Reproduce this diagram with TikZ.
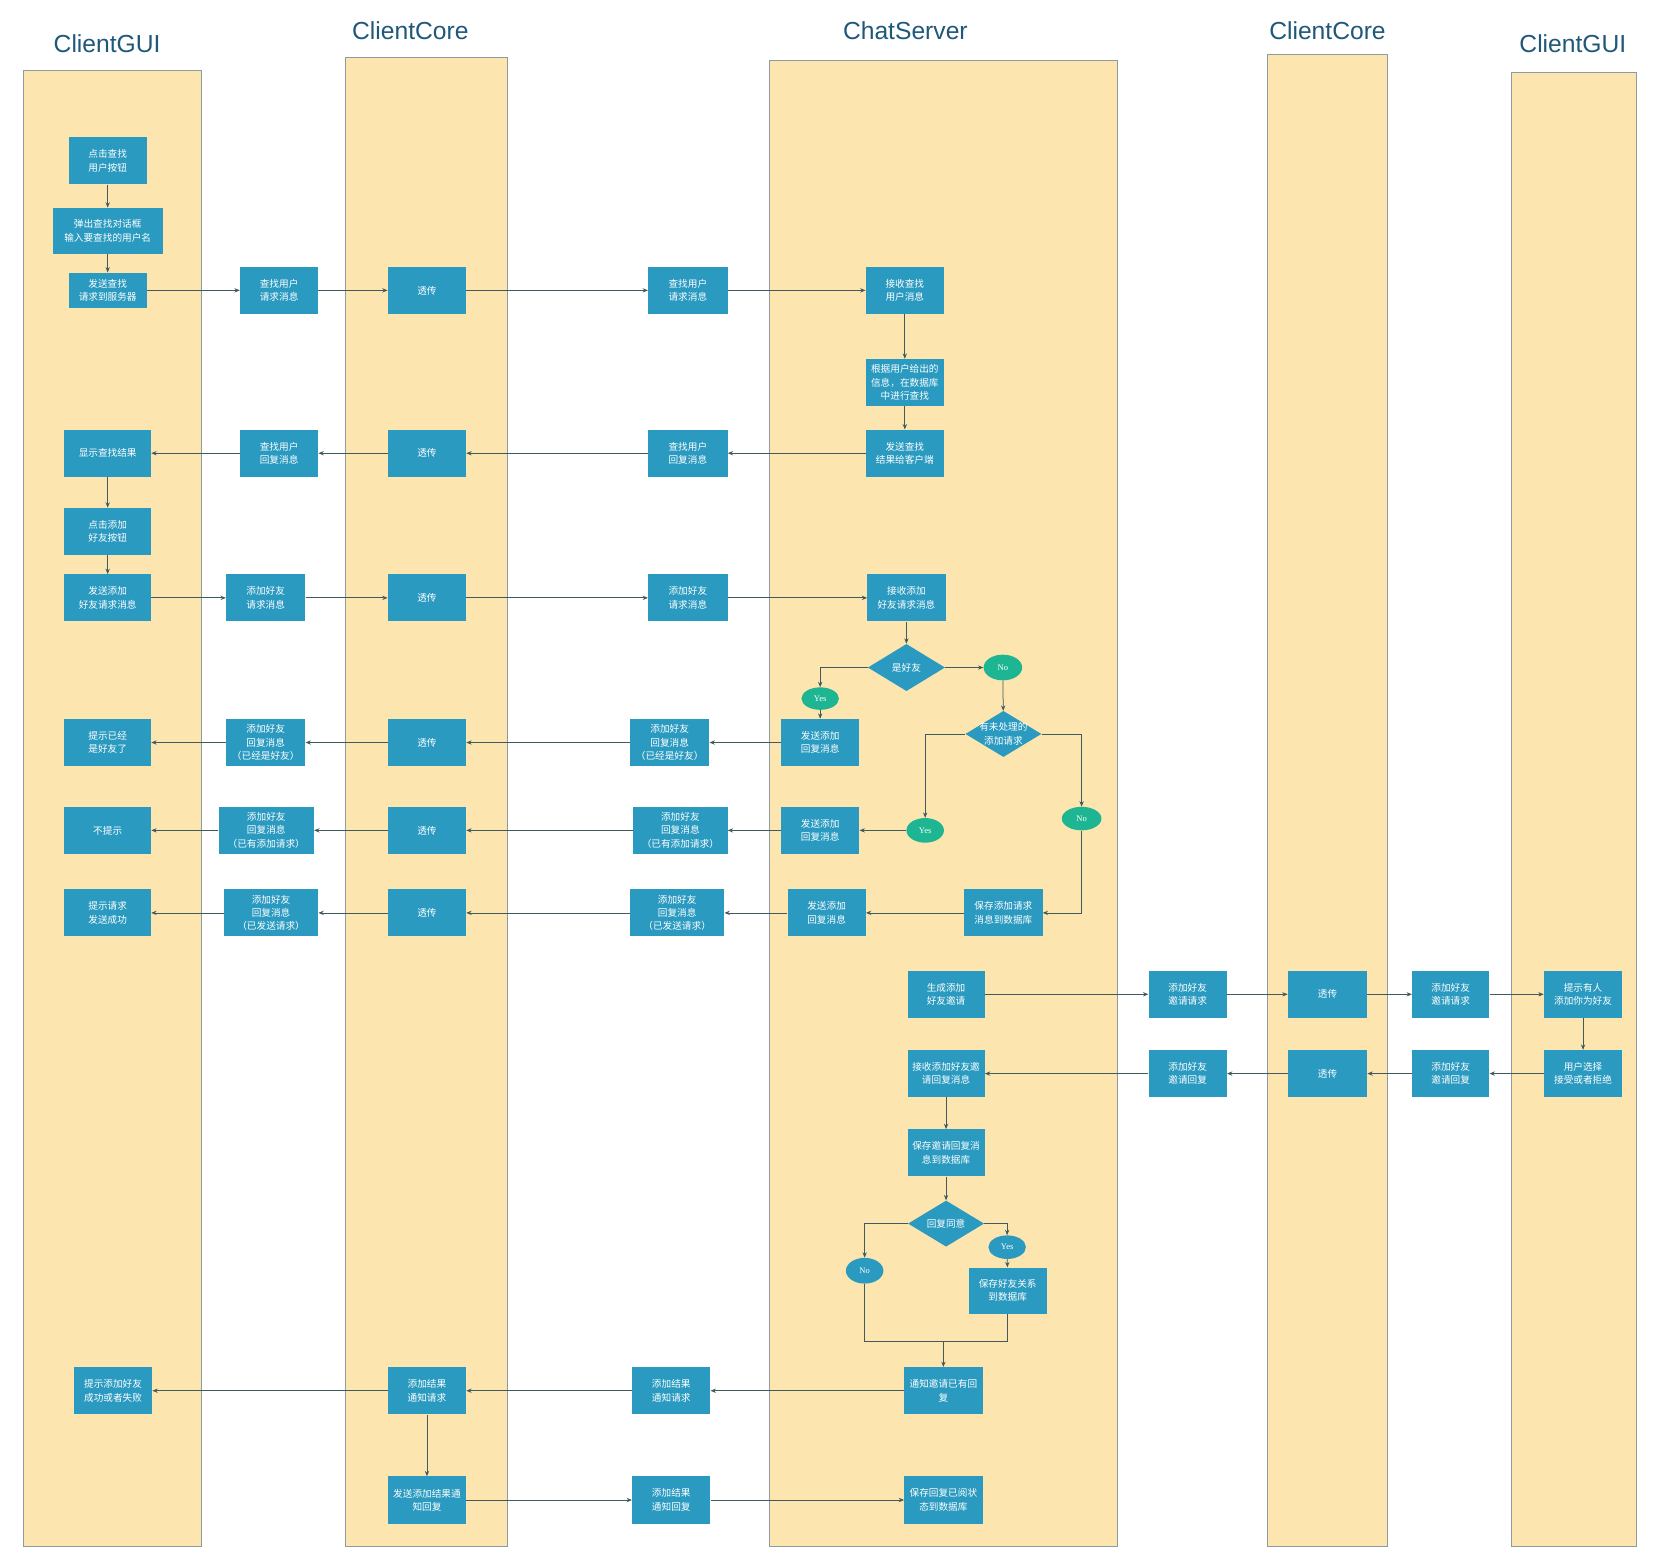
\documentclass[tikz,border=0pt]{standalone}
\usepackage{fontspec}
\setmainfont{Liberation Sans}
\newfontfamily\cjk{Noto Sans CJK SC}
\newfontfamily\yn{Liberation Serif}
\usetikzlibrary{shapes.geometric,arrows.meta}
\definecolor{lanefill}{RGB}{253,229,176}
\definecolor{laneline}{RGB}{140,155,160}
\definecolor{boxblue}{RGB}{42,154,192}
\definecolor{ovgreen}{RGB}{30,182,146}
\definecolor{linec}{RGB}{65,90,95}
\definecolor{titlec}{RGB}{32,88,122}
\begin{document}
\begin{tikzpicture}[x=1pt,y=-1pt,
 lane/.style={fill=lanefill, draw=laneline, line width=0.8pt},
 ttl/.style={text=titlec, font=\fontsize{23}{26}\selectfont, inner sep=0pt},
 box/.style={rectangle, fill=boxblue, text=white, font=\cjk\fontsize{9}{12.5}\selectfont, align=center, inner sep=0pt, minimum width=73pt, minimum height=44pt},
 dia/.style={diamond, fill=boxblue, inner sep=0pt, minimum width=72pt, minimum height=44pt},
 dtxt/.style={text=white, font=\cjk\fontsize{9}{12.5}\selectfont, align=center, inner sep=0pt},
 ovg/.style={ellipse, fill=ovgreen, text=white, font=\yn\fontsize{8}{9}\selectfont, inner sep=0pt, minimum width=36pt, minimum height=23pt},
 ovb/.style={ovg, fill=boxblue},
 arr/.style={draw=linec, line width=0.7pt, -{Stealth[length=5pt,width=4pt]}},
 ln/.style={draw=linec, line width=0.7pt},
]
\useasboundingbox (0,0) rectangle (1568,1444);
\fill[white] (0,0) rectangle (1568,1444);
% lanes
\draw[lane] (22,66) rectangle (188,1443);
\draw[lane] (322,54) rectangle (474,1443);
\draw[lane] (718,56) rectangle (1043,1443);
\draw[lane] (1183,51) rectangle (1295,1443);
\draw[lane] (1411,68) rectangle (1527,1443);
% titles
\node[ttl] (t1) at (100,41) {ClientGUI};
\node[ttl] (t2) at (383,29) {ClientCore};
\node[ttl] (t3) at (845,29) {ChatServer};
\node[ttl] (t4) at (1239,29) {ClientCore};
\node[ttl] (t5) at (1468,41) {ClientGUI};

% ClientGUI
\node[box] (g1) at (100.5,150) {点击查找\\用户按钮};
\node[box, minimum width=103pt, minimum height=43pt] (g2) at (100.5,215.5) {弹出查找对话框\\输入要查找的用户名};
\node[box, minimum height=33pt] (g3) at (100.5,271) {发送查找\\请求到服务器};
\node[box, minimum width=81pt] (g4) at (100.5,423) {显示查找结果};
\node[box, minimum width=81pt] (g5) at (100.5,496) {点击添加\\好友按钮};
\node[box, minimum width=81pt] (g6) at (100.5,558) {发送添加\\好友请求消息};
\node[box, minimum width=81pt] (g7) at (100.5,693) {提示已经\\是好友了};
\node[box, minimum width=81pt] (g8) at (100.5,775) {不提示};
\node[box, minimum width=81pt] (g9) at (100.5,852) {提示请求\\发送成功};
\node[box] (g10) at (105.5,1298) {提示添加好友\\成功或者失败};

% messages GUI <-> Core
\node[box] (m1) at (260.5,271) {查找用户\\请求消息};
\node[box] (m2) at (260.5,423) {查找用户\\回复消息};
\node[box, minimum width=74pt] (m3) at (248,558) {添加好友\\请求消息};
\node[box, minimum width=74pt] (m4) at (248,693) {添加好友\\回复消息\\（已经是好友）};
\node[box, minimum width=89pt] (m5) at (248.5,775) {添加好友\\回复消息\\（已有添加请求）};
\node[box, minimum width=88pt] (m6) at (253,852) {添加好友\\回复消息\\（已发送请求）};

% ClientCore
\node[box] (c1) at (398.5,271) {透传};
\node[box] (c2) at (398.5,423) {透传};
\node[box] (c3) at (398.5,558) {透传};
\node[box] (c4) at (398.5,693) {透传};
\node[box] (c5) at (398.5,775) {透传};
\node[box] (c6) at (398.5,852) {透传};
\node[box] (c7) at (398.5,1298) {添加结果\\通知请求};
\node[box] (c8) at (398.5,1400) {发送添加结果通\\知回复};

% messages Core <-> Server
\node[box, minimum width=74pt] (n1) at (642,271) {查找用户\\请求消息};
\node[box, minimum width=74pt] (n2) at (642,423) {查找用户\\回复消息};
\node[box, minimum width=74pt] (n3) at (642,558) {添加好友\\请求消息};
\node[box, minimum width=74pt] (n4) at (625,693) {添加好友\\回复消息\\（已经是好友）};
\node[box, minimum width=88pt] (n5) at (635,775) {添加好友\\回复消息\\（已有添加请求）};
\node[box, minimum width=88pt] (n6) at (632,852) {添加好友\\回复消息\\（已发送请求）};
\node[box] (n7) at (626.5,1298) {添加结果\\通知请求};
\node[box] (n8) at (626.5,1400) {添加结果\\通知回复};

% ChatServer
\node[box] (s1) at (844.5,271) {接收查找\\用户消息};
\node[box] (s2) at (844.5,357) {根据用户给出的\\信息，在数据库\\中进行查找};
\node[box] (s3) at (844.5,423) {发送查找\\结果给客户端};
\node[box] (s4) at (846,558) {接收添加\\好友请求消息};
\node[dia] (d1) at (846,623) {};
\node[dtxt] (d1t) at (d1) {是好友};
\node[ovg, minimum width=35pt, minimum height=21pt] (y1) at (765.5,652) {Yes};
\node[ovg, minimum height=24pt] (no1) at (936,623) {No};
\node[box] (s5) at (765.5,693) {发送添加\\回复消息};
\node[dia, minimum width=71pt, minimum height=43pt] (d2) at (936.5,685) {};
\node[dtxt] (d2t) at (d2) {有未处理的\\添加请求};
\node[ovg, minimum width=35pt] (y2) at (863.5,775) {Yes};
\node[ovg, minimum width=37pt, minimum height=22pt] (no2) at (1009.5,764) {No};
\node[box] (s6) at (765.5,775) {发送添加\\回复消息};
\node[box] (s7) at (936.5,852) {保存添加请求\\消息到数据库};
\node[box] (s8) at (771.5,852) {发送添加\\回复消息};
\node[box, minimum width=72pt] (s9) at (883,928) {生成添加\\好友邀请};
\node[box, minimum width=72pt] (s10) at (883,1002) {接收添加好友邀\\请回复消息};
\node[box, minimum width=72pt] (s11) at (883,1076) {保存邀请回复消\\息到数据库};
\node[dia, minimum width=71pt, minimum height=43pt] (d3) at (883,1142) {};
\node[dtxt] (d3t) at (d3) {回复同意};
\node[ovb, minimum width=35pt, minimum height=24pt] (no3) at (807,1186) {No};
\node[ovb, minimum width=35pt, minimum height=22pt] (y3) at (940,1164) {Yes};
\node[box, minimum height=43pt] (s12) at (940.5,1204.5) {保存好友关系\\到数据库};
\node[box] (s13) at (880.5,1298) {通知邀请已有回\\复};
\node[box] (s14) at (880.5,1400) {保存回复已阅状\\态到数据库};

% right side
\node[box] (r1) at (1108.5,928) {添加好友\\邀请请求};
\node[box, minimum width=74pt] (r2) at (1239,928) {透传};
\node[box, minimum width=72pt] (r3) at (1354,928) {添加好友\\邀请请求};
\node[box] (r4) at (1477.5,928) {提示有人\\添加你为好友};
\node[box] (r5) at (1477.5,1002) {用户选择\\接受或者拒绝};
\node[box, minimum width=72pt] (r6) at (1354,1002) {添加好友\\邀请回复};
\node[box, minimum width=74pt] (r7) at (1239,1002) {透传};
\node[box] (r8) at (1108.5,1002) {添加好友\\邀请回复};

% connectors: GUI column
\draw[arr] (g1) -- (g2);
\draw[arr] (g2) -- (g3);
\draw[arr] (g4) -- (g5);
\draw[arr] (g5) -- (g6);
% row 1
\draw[arr] (g3.east) -- (m1.west);
\draw[arr] (m1.east) -- (c1.west);
\draw[arr] (c1.east) -- (n1.west);
\draw[arr] (n1.east) -- (s1.west);
\draw[arr] (s1) -- (s2);
\draw[arr] (s2) -- (s3);
% row 2
\draw[arr] (s3.west) -- (n2.east);
\draw[arr] (n2.west) -- (c2.east);
\draw[arr] (c2.west) -- (m2.east);
\draw[arr] (m2.west) -- (g4.east);
% row 3
\draw[arr] (g6.east) -- (m3.west);
\draw[arr] (m3.east) -- (c3.west);
\draw[arr] (c3.east) -- (n3.west);
\draw[arr] (n3.east) -- (s4.west);
\draw[arr] (s4) -- (d1);
\draw[arr] (d1.west) -| (y1.north);
\draw[arr] (d1.east) -- (no1.west);
\draw[arr] (y1) -- (s5);
\draw[arr] (no1) -- (d2);
\draw[arr] (d2.west) -| (y2.north);
\draw[arr] (d2.east) -| (no2.north);
\draw[arr] (y2.west) -- (s6.east);
\draw[arr] (no2.south) |- (s7.east);
\draw[arr] (s7.west) -- (s8.east);
% reply rows
\draw[arr] (s5.west) -- (n4.east);
\draw[arr] (n4.west) -- (c4.east);
\draw[arr] (c4.west) -- (m4.east);
\draw[arr] (m4.west) -- (g7.east);
\draw[arr] (s6.west) -- (n5.east);
\draw[arr] (n5.west) -- (c5.east);
\draw[arr] (c5.west) -- (m5.east);
\draw[arr] (m5.west) -- (g8.east);
\draw[arr] (s8.west) -- (n6.east);
\draw[arr] (n6.west) -- (c6.east);
\draw[arr] (c6.west) -- (m6.east);
\draw[arr] (m6.west) -- (g9.east);
% invitation
\draw[arr] (s9.east) -- (r1.west);
\draw[arr] (r1.east) -- (r2.west);
\draw[arr] (r2.east) -- (r3.west);
\draw[arr] (r3.east) -- (r4.west);
\draw[arr] (r4) -- (r5);
\draw[arr] (r5.west) -- (r6.east);
\draw[arr] (r6.west) -- (r7.east);
\draw[arr] (r7.west) -- (r8.east);
\draw[arr] (r8.west) -- (s10.east);
\draw[arr] (s10) -- (s11);
\draw[arr] (s11) -- (d3);
\draw[arr] (d3.west) -| (no3.north);
\draw[arr] (d3.east) -| (y3.north);
\draw[arr] (y3) -- (s12);
\coordinate (mg) at (880.5,1252);
\draw[ln] (no3.south) |- (mg) -| (s12.south);
\draw[arr] (mg) -- (s13.north);
% result rows
\draw[arr] (s13.west) -- (n7.east);
\draw[arr] (n7.west) -- (c7.east);
\draw[arr] (c7.west) -- (g10.east);
\draw[arr] (c7) -- (c8);
\draw[arr] (c8.east) -- (n8.west);
\draw[arr] (n8.east) -- (s14.west);
\end{tikzpicture}
\end{document}
